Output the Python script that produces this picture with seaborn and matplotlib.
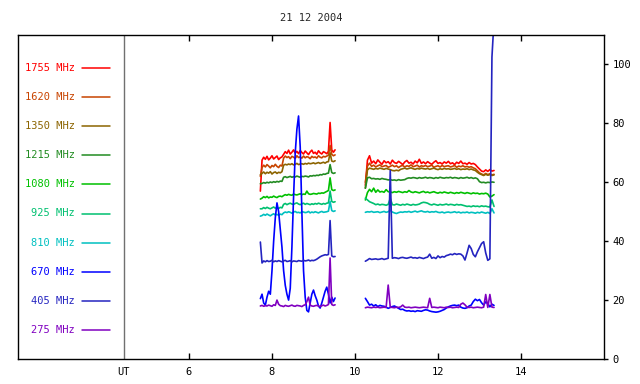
import numpy as np
import pandas as pd
import matplotlib
matplotlib.use("Agg")
import matplotlib.pyplot as plt
import seaborn as sns

title = "21 12 2004"
freqs = ["1755 MHz", "1620 MHz", "1350 MHz", "1215 MHz", "1080 MHz",
         "925 MHz", "810 MHz", "670 MHz", "405 MHz", "275 MHz"]
colors = ["#ff0000", "#c84400", "#8c6400", "#228b22", "#00c000",
          "#00c070", "#00c0c0", "#0000ff", "#2424c0", "#8000c0"]

# UT hours of the two observing segments
t_seg1 = np.linspace(7.72, 9.52, 46)
t_seg2 = np.linspace(10.25, 13.35, 63)

f1755_a = [57.0, 67.5, 68.5, 67.8, 68.8, 67.6, 68.2, 69.0, 67.9, 68.4, 68.9, 67.7, 68.3, 68.6,
           69.5, 70.4, 69.8, 70.9, 69.6, 70.2, 71.0, 69.9, 70.5, 69.7, 70.8, 70.1, 69.6, 70.6,
           70.0, 69.4, 70.3, 70.9, 69.8, 70.2, 69.5, 70.7, 70.0, 69.6, 70.4, 70.1, 69.7, 70.5,
           80.3, 71.0, 70.2, 71.0]
f1755_b = [59.0, 67.5, 69.0, 66.5, 67.2, 66.3, 67.6, 66.8, 66.1, 67.3,
           66.6, 67.0, 66.2, 67.5, 66.7, 66.4, 67.1, 66.6, 66.0, 66.9,
           67.4, 66.5, 66.8, 66.2, 67.2, 66.6, 67.8, 66.4, 66.9, 66.3,
           67.0, 66.5, 66.1, 66.8, 67.3, 66.4, 66.7, 66.2, 66.9, 66.5,
           67.1, 66.3, 66.6, 66.0, 66.8, 66.4, 67.2, 66.3, 66.5, 66.1,
           66.7, 66.2, 66.4, 66.0, 65.2, 64.5, 63.8, 63.6, 64.2, 63.7,
           64.3, 63.8, 64.0]

f1620_a = [62.0, 65.0, 65.8, 65.2, 66.0, 65.5, 64.9, 65.7, 65.3, 66.1, 65.4, 65.0, 65.8, 65.5,
           68.2, 68.9, 68.4, 68.7, 68.0, 68.8, 68.5, 68.1, 69.0, 68.4, 68.6, 68.2, 68.9, 68.3,
           68.7, 68.5, 68.0, 68.8, 68.4, 68.6, 68.2, 69.0, 68.5, 68.3, 68.8, 68.6, 68.9, 69.2,
           72.5, 69.5, 69.0, 69.3]
f1620_b = [60.0, 65.5, 66.5, 65.4, 65.8, 65.2, 65.6, 65.9, 65.3, 65.5,
           65.7, 65.1, 65.4, 65.8, 65.3, 65.6, 65.0, 65.5, 65.7, 65.2,
           65.6, 65.4, 65.9, 65.3, 65.5, 65.8, 65.2, 65.6, 65.4, 65.7,
           65.3, 65.5, 65.8, 65.1, 65.4, 65.6, 65.2, 65.7, 65.3, 65.5,
           65.6, 65.2, 65.4, 65.7, 65.1, 65.5, 65.3, 65.6, 65.2, 65.4,
           65.1, 65.3, 64.9, 64.6, 63.9, 63.2, 62.8, 62.5, 63.0, 62.6,
           62.9, 62.5, 62.7]

f1350_a = [62.5, 63.0, 63.5, 62.9, 63.4, 63.1, 63.6, 62.8, 63.3, 63.5, 63.0, 63.4, 63.2, 63.6,
           65.8, 66.1, 65.9, 66.2, 66.0, 66.3, 65.9, 66.1, 66.4, 66.0, 66.2, 66.3, 66.1, 66.4,
           66.2, 66.5, 66.3, 66.4, 66.6, 66.3, 66.5, 66.7, 66.4, 66.6, 66.8, 66.5, 66.9, 67.0,
           70.0, 67.2, 67.0, 67.3]
f1350_b = [58.0, 64.2, 64.8, 64.6, 64.4, 64.7, 64.5, 64.8, 64.6, 64.4,
           64.7, 64.5, 64.3, 64.0, 63.9, 64.1, 63.9, 64.4, 64.6, 64.8,
           64.5, 64.7, 64.9, 64.6, 64.4, 64.7, 64.5, 64.8, 64.6, 64.5,
           64.7, 64.4, 64.6, 64.8, 64.5, 64.3, 64.6, 64.4, 64.7, 64.5,
           64.6, 64.4, 64.5, 64.7, 64.4, 64.6, 64.3, 64.5, 64.4, 64.6,
           64.3, 64.5, 64.2, 64.0, 63.4, 62.9, 62.6, 62.3, 62.7, 62.4,
           62.6, 62.3, 62.5]

f1215_a = [59.5, 59.6, 59.9, 59.7, 60.0, 59.8, 60.1, 59.9, 60.2, 60.0, 60.3, 60.1, 60.4, 60.3,
           61.7, 61.9, 61.6, 61.8, 62.0, 61.7, 61.9, 61.8, 62.1, 61.9, 61.7, 62.0, 61.9, 62.1,
           62.0, 61.8, 62.2, 62.1, 62.3, 62.2, 62.4, 62.3, 62.6, 62.5, 62.8, 62.7, 63.0, 63.1,
           66.0, 63.3, 63.0, 63.2]
f1215_b = [58.0, 61.5, 61.7, 61.2, 61.3, 61.1, 61.2, 61.0, 61.3, 61.1,
           61.0, 60.8, 60.9, 60.7, 60.8, 60.6, 60.9, 60.7, 60.8, 60.9,
           61.3, 61.5, 61.4, 61.6, 61.5, 61.3, 61.6, 61.4, 61.5, 61.7,
           61.4, 61.6, 61.5, 61.3, 61.6, 61.4, 61.7, 61.5, 61.4, 61.6,
           61.5, 61.7, 61.4, 61.6, 61.5, 61.3, 61.6, 61.4, 61.5, 61.7,
           61.4, 61.6, 61.3, 61.5, 61.2, 60.2, 59.9, 60.0, 59.8, 60.0,
           59.9, 60.1, 60.0]

f1080_a = [54.3, 54.6, 55.1, 54.8, 55.2, 54.7, 55.0, 54.9, 55.3, 55.0, 54.8, 55.2, 55.3, 55.1,
           55.5, 55.8, 55.6, 55.9, 55.7, 55.6, 56.0, 55.8, 55.7, 55.9, 56.1, 55.8, 56.0, 55.9,
           57.0, 56.1, 55.9, 56.0, 56.2, 56.1, 56.0, 56.3, 56.2, 56.4, 56.3, 56.6, 56.9, 57.2,
           61.5, 57.5, 57.2, 57.4]
f1080_b = [54.0, 56.5, 57.6, 56.8, 58.0, 56.6, 57.4, 56.7, 56.9, 56.6,
           57.5, 56.8, 56.7, 56.5, 56.8, 56.6, 56.9, 56.7, 56.5, 56.8,
           56.6, 57.2, 56.7, 56.5, 56.8, 56.6, 56.4, 56.7, 56.9, 56.5,
           56.7, 56.4, 56.6, 56.8, 56.5, 56.3, 56.6, 56.4, 56.7, 56.5,
           56.3, 56.6, 56.4, 56.2, 56.5, 56.3, 56.6, 56.4, 56.2, 56.5,
           56.3, 56.1, 56.4, 56.2, 56.3, 56.0, 56.2, 56.1, 56.3, 56.0,
           55.0, 55.3, 55.8]

f925_a = [51.0, 51.0, 51.4, 51.1, 51.5, 51.2, 51.0, 51.3, 51.6, 51.2, 51.4, 51.1, 51.5, 51.3,
          52.5, 52.8, 52.4, 52.7, 52.9, 52.6, 52.5, 52.8, 53.0, 52.6, 52.4, 52.7, 52.9, 52.5,
          52.8, 52.6, 52.4, 52.7, 52.5, 52.8, 52.6, 52.9, 52.7, 52.5, 52.8, 52.6, 52.9, 53.0,
          57.0, 53.5, 53.2, 53.4]
f925_b = [54.6, 54.0, 53.4, 53.1, 52.8, 52.4, 52.6, 52.3, 52.5, 52.4,
          52.2, 52.5, 54.5, 52.4, 52.3, 52.6, 52.4, 52.2, 52.5, 52.3,
          52.6, 52.4, 52.2, 52.5, 52.3, 52.4, 52.6, 53.0, 53.2, 53.1,
          52.9, 52.5, 52.3, 52.6, 52.4, 52.2, 52.5, 52.3, 52.4, 52.6,
          52.3, 52.5, 52.4, 52.2, 52.5, 52.3, 52.4, 52.2, 52.0, 51.8,
          51.9, 51.7, 52.0, 51.8, 51.9, 51.7, 52.0, 51.8, 51.9, 51.7,
          51.6, 54.0, 51.8]

f810_a = [48.5, 48.7, 49.1, 48.8, 49.2, 48.9, 48.6, 49.0, 49.3, 48.9, 49.1, 48.8, 49.2, 49.0,
          49.6, 49.9, 49.7, 50.0, 49.8, 49.5, 49.9, 50.1, 49.7, 49.8, 49.6, 50.0, 49.9, 49.7,
          49.8, 50.1, 49.6, 49.9, 49.7, 50.0, 49.8, 49.6, 49.9, 50.1, 49.8, 49.9, 50.0, 50.2,
          53.5, 50.4, 50.1, 50.3]
f810_b = [49.8, 50.0, 49.9, 50.1, 49.8, 49.9, 50.0, 49.7, 49.9, 50.1,
          49.8, 50.0, 50.5, 49.9, 49.6, 49.4, 49.7, 49.9, 49.8, 50.0,
          49.9, 50.1, 49.8, 50.0, 50.2, 49.9, 50.1, 50.3, 50.0, 49.9,
          50.1, 49.8, 50.0, 49.9, 50.1, 49.8, 49.7, 49.9, 49.6, 49.8,
          49.9, 49.7, 49.8, 50.0, 49.7, 49.9, 49.6, 49.8, 49.7, 49.9,
          49.6, 49.8, 49.7, 49.5, 49.8, 49.6, 49.9, 49.7, 49.5, 49.8,
          49.4, 51.0, 49.6]

f670_a = [20.5, 22.0, 19.0, 18.3, 21.0, 23.0, 22.0, 30.0, 40.0, 48.0, 53.0, 50.0, 44.0, 38.0,
          30.0, 25.0, 22.0, 20.0, 24.0, 38.0, 55.0, 70.0, 78.0, 82.5, 72.0, 50.0, 30.0, 21.0,
          16.5, 16.0, 19.0, 22.0, 23.4, 21.5, 20.0, 18.0, 17.3, 19.0, 21.0, 23.0, 24.4, 22.0,
          19.0, 21.0, 19.5, 20.7]
f670_b = [20.6, 19.5, 18.3, 18.6, 18.0, 18.4, 17.8, 18.2, 18.0, 17.9,
          17.6, 17.2, 17.5, 17.8, 18.0, 17.6, 17.2, 16.8, 16.9, 16.5,
          16.3, 16.4, 16.2, 16.3, 16.1, 16.4, 16.3, 16.2, 16.5, 16.7,
          16.6, 16.3, 16.1, 16.0, 15.9, 16.0, 16.2, 16.5, 16.8, 17.3,
          17.7, 18.0, 18.2, 18.3, 18.1, 18.3, 17.6, 17.3, 17.2, 17.4,
          18.0, 18.3, 19.5, 20.3, 19.8, 20.2, 19.1, 18.3, 19.4, 18.8,
          17.7, 18.6, 18.2]

f405_a = [39.7, 32.6, 33.3, 33.0, 33.4, 33.1, 33.2, 33.5, 33.0, 33.3, 33.1, 33.4, 33.2, 33.0,
          33.3, 33.5, 33.1, 33.2, 33.4, 33.0, 33.3, 33.2, 33.1, 33.4, 33.3, 33.2, 33.5, 33.3,
          33.4, 33.6, 33.3, 33.5, 33.4, 33.6, 33.9, 34.3, 34.7, 35.0, 35.2, 35.4, 35.3, 35.5,
          47.0, 35.0, 34.7, 34.8]
f405_b = [33.2, 33.6, 34.1, 33.8, 33.9, 34.0, 33.8, 33.9, 34.1, 33.8,
          34.0, 34.2, 64.0, 34.2, 34.4, 34.3, 34.1, 34.4, 34.5, 34.3,
          34.2, 34.4, 34.6, 34.3, 34.4, 34.2, 34.5, 34.3, 34.1, 34.4,
          34.6, 35.6, 34.2, 34.5, 34.1, 35.0, 34.4, 34.8, 34.6, 35.1,
          35.3, 35.6, 35.4, 35.8, 35.5, 35.7, 35.6, 35.0, 33.6, 36.0,
          38.6, 37.5, 35.5, 34.7, 36.4, 37.8, 39.2, 39.8, 36.0, 33.5,
          34.0, 102.5, 115.0]

f275_a = [18.0, 18.2, 17.9, 18.1, 18.0, 18.3, 18.1, 17.9, 18.4, 18.2, 20.0, 18.6, 18.1, 18.0,
          17.8, 18.2, 18.0, 17.9, 18.1, 18.3, 18.0, 17.9, 18.2, 18.1, 18.0, 17.8, 18.2, 18.4,
          19.5, 21.0, 18.3, 18.0, 17.9, 18.1, 18.2, 18.0, 17.8, 18.1, 18.3, 18.0, 18.2, 18.5,
          34.3, 18.5, 18.2, 18.4]
f275_b = [17.4, 17.6, 17.5, 17.4, 17.6, 17.5, 17.6, 17.4, 17.5, 17.6,
          17.5, 25.1, 17.6, 17.5, 17.4, 17.6, 17.5, 17.7, 18.3, 17.6,
          17.5, 17.6, 17.4, 17.5, 17.6, 17.5, 17.4, 17.5, 17.6, 17.5,
          17.4, 20.6, 17.5, 17.6, 17.5, 17.4, 17.6, 17.5, 17.4, 17.6,
          17.5, 17.6, 17.4, 17.5, 17.6, 17.5, 18.6, 19.0, 18.4, 17.6,
          17.5, 17.6, 17.4, 17.5, 17.6, 17.5, 17.4, 17.6, 21.9, 17.5,
          21.9, 17.6, 17.5]

series = {
    "1755 MHz": (f1755_a, f1755_b), "1620 MHz": (f1620_a, f1620_b),
    "1350 MHz": (f1350_a, f1350_b), "1215 MHz": (f1215_a, f1215_b),
    "1080 MHz": (f1080_a, f1080_b), "925 MHz": (f925_a, f925_b),
    "810 MHz": (f810_a, f810_b), "670 MHz": (f670_a, f670_b),
    "405 MHz": (f405_a, f405_b), "275 MHz": (f275_a, f275_b),
}

rows = []
for name, (a, b) in series.items():
    for seg, (tt, vv) in enumerate([(t_seg1, a), (t_seg2, b)]):
        if len(tt) != len(vv):
            raise ValueError(f"{name} seg{seg}: {len(vv)} vs {len(tt)}")
        for x, y in zip(tt, vv):
            rows.append((name, seg, x, y))
df = pd.DataFrame(rows, columns=["freq", "seg", "ut", "flux"])

sns.set_style("white")
plt.rcParams["font.family"] = ["DejaVu Sans Mono"]
plt.rcParams["font.size"] = 7.5

fig = plt.figure(figsize=(6.4, 3.84), dpi=100)
L, R, T, B = 18, 604, 35, 359
ax = fig.add_axes([L / 640, 1 - B / 384, (R - L) / 640, (B - T) / 384])

sns.lineplot(data=df, x="ut", y="flux", hue="freq", units="seg", estimator=None,
             hue_order=freqs, palette=dict(zip(freqs, colors)), sort=False,
             legend=False, linewidth=1.2, ax=ax)

ut_mark = 4.43
ax.axvline(ut_mark, color="#707070", lw=1.0, zorder=0)

ax.set_xlim(1.88, 16.0)
ax.set_ylim(0, 110)
ax.set_xlabel("")
ax.set_ylabel("")
ax.set_xticks([ut_mark, 6, 8, 10, 12, 14])
ax.set_xticklabels(["UT", "6", "8", "10", "12", "14"])
ax.tick_params(axis="x", direction="in", top=True, bottom=True, length=4,
               width=1, pad=6, colors="black")
t0 = ax.xaxis.get_major_ticks()[0]
t0.tick1line.set_visible(False)
t0.tick2line.set_visible(False)
ax.yaxis.tick_right()
ax.set_yticks([0, 20, 40, 60, 80, 100])
ax.tick_params(axis="y", direction="out", length=3, width=1, pad=3,
               left=False, right=True, colors="black")
for s in ax.spines.values():
    s.set_color("black")
    s.set_linewidth(1.0)
    s.set_visible(True)

# legend on the left
for k, (name, col) in enumerate(zip(freqs, colors)):
    ypix = 68 + 29.1 * k
    ya = (B - ypix) / (B - T)
    ax.text((75 - L) / (R - L), ya, name, color=col, ha="right", va="center",
            transform=ax.transAxes)
    ax.plot([(82 - L) / (R - L), (110 - L) / (R - L)], [ya, ya], color=col,
            lw=1.1, transform=ax.transAxes)

fig.text(311 / 640, 1 - 18 / 384, title, ha="center", va="center")

fig.savefig("out.png", dpi=100, facecolor="white")
